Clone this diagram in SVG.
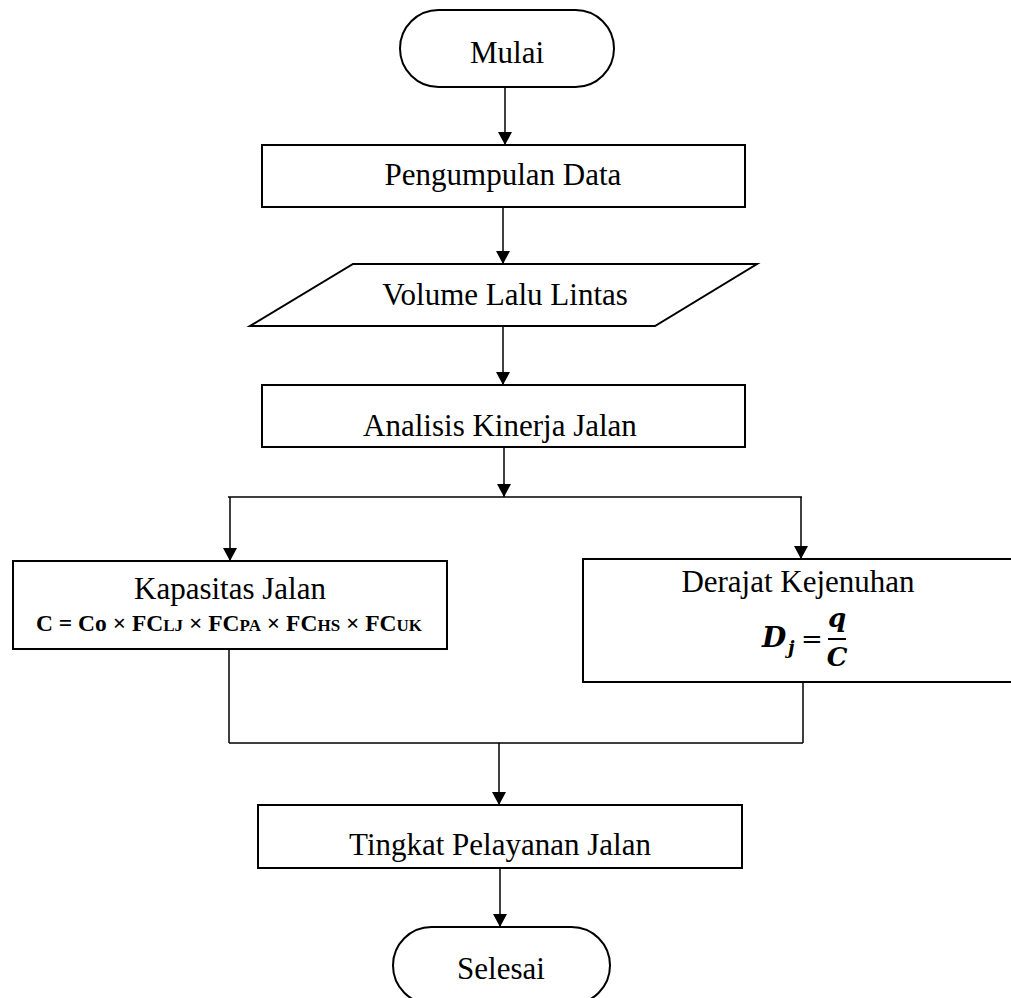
<svg xmlns="http://www.w3.org/2000/svg" width="1011" height="998" viewBox="0 0 1011 998">
  <style>
    .box { fill: #ffffff; stroke: #000000; stroke-width: 2; }
    .line { fill: none; stroke: #000000; stroke-width: 1.5; }
    .lbl { font-family: "Liberation Serif", "Times New Roman", serif; font-size: 31px; fill: #000000; text-anchor: middle; }
    .eq { font-family: "Liberation Serif", "Times New Roman", serif; font-weight: bold; fill: #000000; }
    .math { font-family: "DejaVu Serif", serif; font-weight: bold; font-style: italic; fill: #000000; }
  </style>
  <defs>
    <marker id="arrow" markerWidth="13" markerHeight="15" refX="13" refY="7" orient="auto" markerUnits="userSpaceOnUse" viewBox="0 0 13 14">
      <path d="M0,0 L13,7 L0,14 Z" fill="#000000"/>
    </marker>
  </defs>

  <rect width="1011" height="998" fill="#ffffff"/>

  <!-- connectors -->
  <g id="connectors">
    <line class="line" x1="505" y1="87" x2="505" y2="145" marker-end="url(#arrow)"/>
    <line class="line" x1="503" y1="207" x2="503" y2="264" marker-end="url(#arrow)"/>
    <line class="line" x1="503" y1="326" x2="503" y2="385" marker-end="url(#arrow)"/>
    <line class="line" x1="504" y1="447" x2="504" y2="497" marker-end="url(#arrow)"/>
    <line class="line" x1="228" y1="497" x2="802" y2="497" stroke-width="1.2"/>
    <line class="line" x1="230" y1="497" x2="230" y2="561" marker-end="url(#arrow)"/>
    <line class="line" x1="801" y1="497" x2="801" y2="559" marker-end="url(#arrow)"/>
    <line class="line" x1="229" y1="649" x2="229" y2="743" stroke-width="1.2"/>
    <line class="line" x1="803" y1="682" x2="803" y2="743" stroke-width="1.2"/>
    <line class="line" x1="229" y1="743" x2="803" y2="743" stroke-width="1.2"/>
    <line class="line" x1="499" y1="743" x2="499" y2="805" marker-end="url(#arrow)"/>
    <line class="line" x1="500" y1="868" x2="500" y2="927" marker-end="url(#arrow)"/>
  </g>

  <!-- start terminal -->
  <g id="mulai">
    <rect class="box" x="400" y="10" width="214" height="77" rx="38.5" ry="38.5"/>
    <text class="lbl" x="507" y="63">Mulai</text>
  </g>

  <g id="pengumpulan-data">
    <rect class="box" x="262" y="145" width="483" height="62"/>
    <text class="lbl" x="503" y="185">Pengumpulan Data</text>
  </g>

  <!-- input parallelogram -->
  <g id="volume-lalu-lintas">
    <polygon class="box" points="353,264 757,264 655,326 250,326"/>
    <text class="lbl" x="505" y="305">Volume Lalu Lintas</text>
  </g>

  <g id="analisis-kinerja-jalan">
    <rect class="box" x="262" y="385" width="483" height="62"/>
    <text class="lbl" x="500" y="436">Analisis Kinerja Jalan</text>
  </g>

  <g id="kapasitas-jalan">
    <rect class="box" x="13" y="561" width="434" height="88"/>
    <text class="lbl" x="230" y="599">Kapasitas Jalan</text>
    <text class="eq" x="229" y="631" text-anchor="middle" font-size="23.5">C = Co × FC<tspan font-size="17">LJ</tspan> × FC<tspan font-size="17">PA</tspan> × FC<tspan font-size="17">HS</tspan> × FC<tspan font-size="17">UK</tspan></text>
  </g>

  <g id="derajat-kejenuhan">
    <rect class="box" x="583" y="559" width="430" height="123"/>
    <text class="lbl" x="798" y="592">Derajat Kejenuhan</text>
    <text class="math" x="762" y="647" font-size="28">D</text>
    <text class="math" x="788" y="654" font-size="18">j</text>
    <text x="812" y="648" font-family="DejaVu Serif, serif" font-size="26" text-anchor="middle">=</text>
    <text class="math" x="837" y="627" font-size="26" text-anchor="middle">q</text>
    <line x1="828" y1="639" x2="846" y2="639" stroke="#000000" stroke-width="2"/>
    <text class="math" x="837" y="666" font-size="26" text-anchor="middle">C</text>
  </g>

  <g id="tingkat-pelayanan-jalan">
    <rect class="box" x="258" y="805" width="484" height="63"/>
    <text class="lbl" x="500" y="855">Tingkat Pelayanan Jalan</text>
  </g>

  <!-- end terminal -->
  <g id="selesai">
    <rect class="box" x="393" y="927" width="217" height="77" rx="38.5" ry="38.5"/>
    <text class="lbl" x="501" y="979">Selesai</text>
  </g>
</svg>
